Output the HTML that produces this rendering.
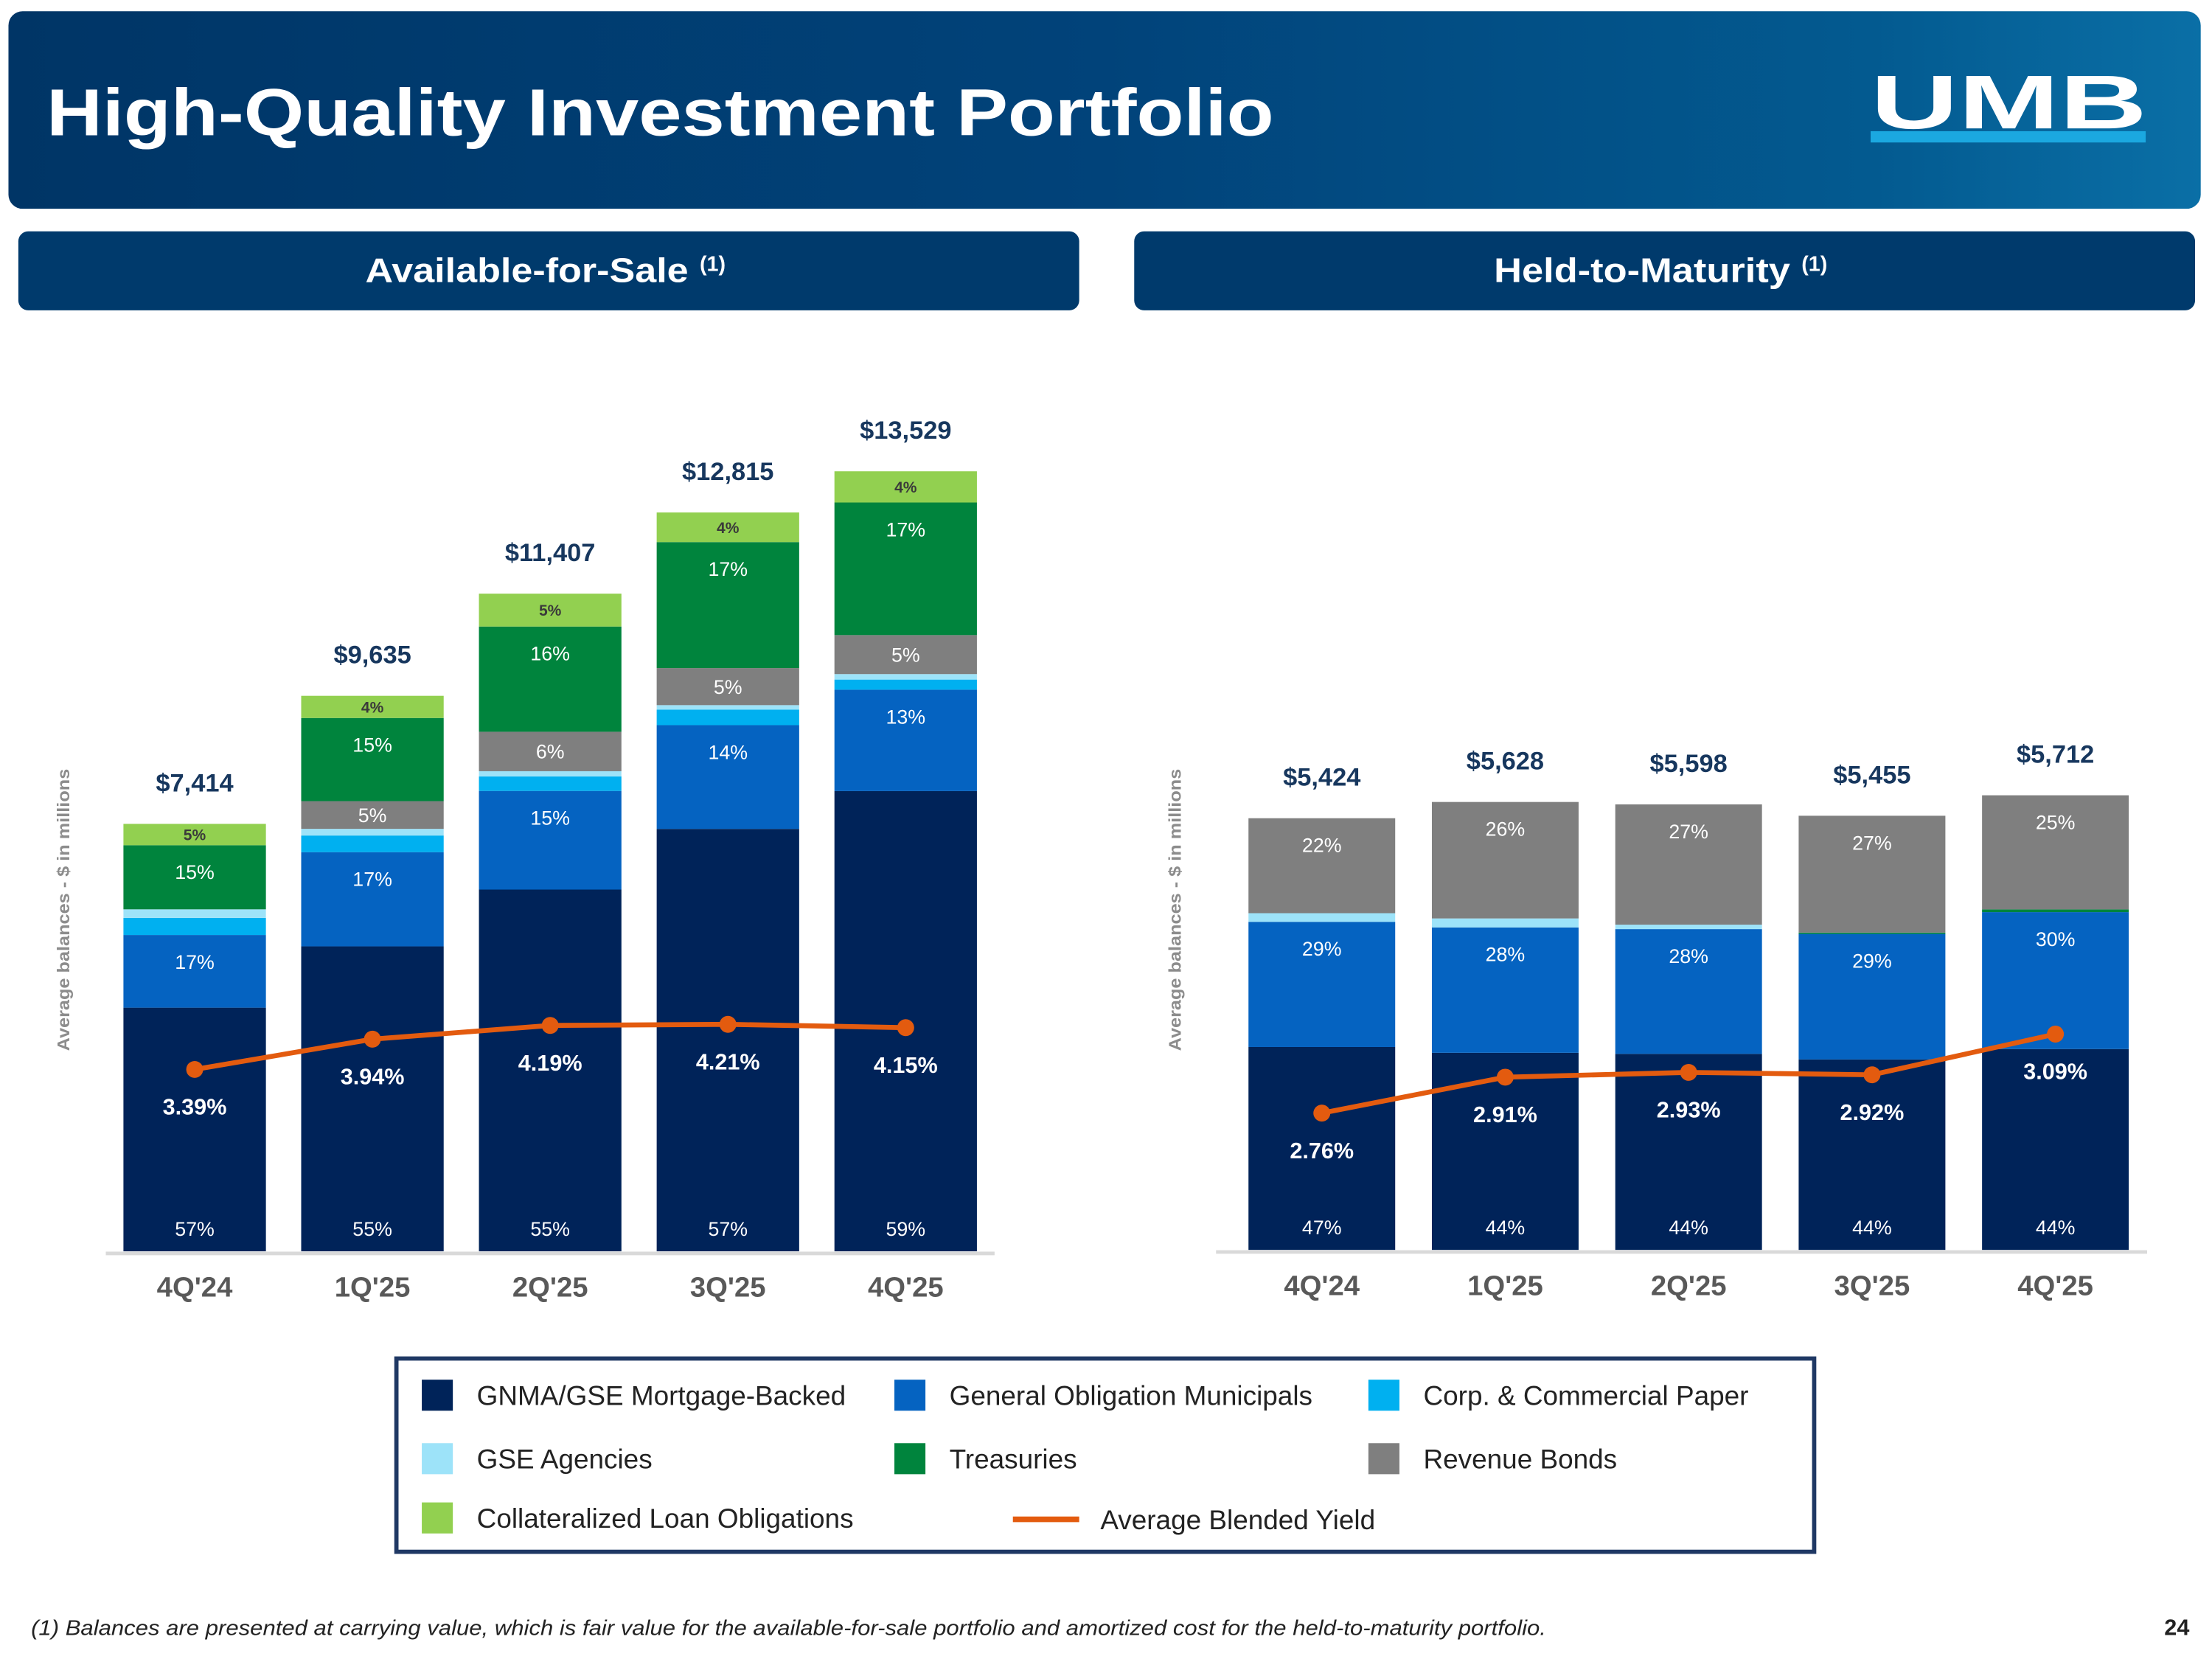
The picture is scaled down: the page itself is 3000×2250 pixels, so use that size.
<!DOCTYPE html>
<html><head><meta charset="utf-8">
<style>
html,body{margin:0;padding:0;background:#fff;}
svg{display:block;font-family:"Liberation Sans",Arial,sans-serif;}
</style></head>
<body>
<svg id="root" width="3000" height="2250" viewBox="0 0 1568 1176" xmlns="http://www.w3.org/2000/svg">
<defs>
<linearGradient id="hdr" x1="0" x2="1" y1="0" y2="0">
<stop offset="0" stop-color="#003566"/><stop offset="0.5" stop-color="#01437a"/><stop offset="0.85" stop-color="#035a90"/><stop offset="1" stop-color="#0a6fa6"/>
</linearGradient>
</defs>
<g>
<rect x="6" y="8" width="1554" height="140" rx="10" fill="url(#hdr)"/>
<text x="33" y="96" font-size="47" font-weight="bold" fill="#fff" textLength="870" lengthAdjust="spacingAndGlyphs">High-Quality Investment Portfolio</text>
<g>
<text x="1424" y="91" text-anchor="middle" font-size="54" font-weight="900" fill="#fff" textLength="196" lengthAdjust="spacingAndGlyphs">UMB</text>
<rect x="1326" y="93" width="195" height="8" fill="#1ba8e0"/>
</g>
</g>
<g>
<rect x="13" y="164" width="752" height="56" rx="7" fill="#003a6c"/>
<text x="259" y="200" font-size="24" font-weight="bold" fill="#fff"><tspan textLength="229" lengthAdjust="spacingAndGlyphs">Available-for-Sale</tspan><tspan font-size="15" dx="8" dy="-8">(1)</tspan></text>
</g>
<g>
<rect x="804" y="164" width="752" height="56" rx="7" fill="#003a6c"/>
<text x="1059" y="200" font-size="24" font-weight="bold" fill="#fff"><tspan textLength="210" lengthAdjust="spacingAndGlyphs">Held-to-Maturity</tspan><tspan font-size="15" dx="8" dy="-8">(1)</tspan></text>
</g>
<g id="afs"></g>
<g id="htm"></g>
<g id="legend">
<rect x="281" y="963" width="1005" height="137" fill="#fff" stroke="#1f3864" stroke-width="3"/>
</g>
<text x="22" y="1159" font-size="15" font-style="italic" fill="#222" textLength="1074" lengthAdjust="spacingAndGlyphs">(1) Balances are presented at carrying value, which is fair value for the available-for-sale portfolio and amortized cost for the held-to-maturity portfolio.</text>
<text x="1552" y="1159" text-anchor="end" font-size="16" font-weight="bold" fill="#222">24</text>
</svg>
<script>
const categories = ["4Q'24","1Q'25","2Q'25","3Q'25","4Q'25"];
const seriesNames = ["GNMA/GSE Mortgage-Backed","General Obligation Municipals","Corp. & Commercial Paper","GSE Agencies","Revenue Bonds","Treasuries","Collateralized Loan Obligations"];
const seriesColors = ["#002359","#0563c1","#00b0f0","#9de3f9","#7f7f7f","#00843d","#92d050"];
// AFS
const afsTotals = [7414, 9635, 11407, 12815, 13529];
const afsGNMA = [57, 55, 55, 57, 59];
const afsGO = [17, 17, 15, 14, 13];
const afsCorp = [4, 3, 2.2, 2.1, 1.3];
const afsGSE = [2, 1.2, 0.8, 0.6, 0.7];
const afsRevenue = [0, 5, 6, 5, 5];
const afsTreasuries = [15, 15, 16, 17, 17];
const afsCLO = [5, 4, 5, 4, 4];
const afsYield = [3.39, 3.94, 4.19, 4.21, 4.15];
// HTM
const htmTotals = [5424, 5628, 5598, 5455, 5712];
const htmGNMA = [47, 44, 44, 44, 44];
const htmGO = [29, 28, 28, 29, 30];
const htmCorp = [0, 0, 0, 0, 0];
const htmGSE = [2, 2, 1, 0, 0];
const htmRevenue = [22, 26, 27, 27, 25];
const htmTreasuries = [0, 0, 0, 0.3, 0.6];
const htmCLO = [0, 0, 0, 0, 0];
const htmYield = [2.76, 2.91, 2.93, 2.92, 3.09];
const labelShow = [true,true,false,false,true,true,true];
const NS="http://www.w3.org/2000/svg";
function mk(tag, attrs, parent){const e=document.createElementNS(NS,tag);for(const k in attrs)e.setAttribute(k,attrs[k]);parent.appendChild(e);return e;}
function fmt(v){return "$"+v.toLocaleString("en-US");}
function drawChart(g, cfg){
  const xCenter=i=>cfg.x0+i*cfg.step;
  const yBal=v=>cfg.base-v*cfg.pxPerUnit;
  const yYield=v=>cfg.ya-v*cfg.yb;
  const axis=mk('line',{x1:cfg.axL,x2:cfg.axR,y1:cfg.base+1.5,y2:cfg.base+1.5,stroke:'#d9d9d9','stroke-width':2.5},g);
  
  
  const yt=mk('text',{x:0,y:0,transform:`translate(${cfg.ytX},645) rotate(-90)`,'text-anchor':'middle','font-size':12,'font-weight':'bold',fill:'#8c8c8c',textLength:200,lengthAdjust:'spacingAndGlyphs'},g);
  yt.textContent="Average balances  - $ in millions";
  
  
  cfg.totals.forEach((tot,i)=>{
    const cx=xCenter(i), totalH=tot*cfg.pxPerUnit;
    const pctSum=cfg.series.reduce((a,s)=>a+s[i],0);
    let y=cfg.base;
    cfg.order.forEach(k=>{
      const v=cfg.series[k][i]; if(v<=0) return;
      const h=v/pctSum*totalH;
      const r=mk('rect',{x:cx-cfg.bw/2,y:y-h,width:cfg.bw,height:h,fill:seriesColors[k]},g);
      
      
      if(labelShow[k] && v>=3){
        let ly;
        if(k===0) ly=cfg.base-11;
        else if(k===6) ly=y-h/2+4;
        else ly=Math.min(y-h+24, y-h/2+5);
        const t=mk('text',{x:cx,y:ly,'text-anchor':'middle','font-size':k===6?11:14,'font-weight':k===6?'bold':'normal',fill:k===6?'#3a3a3a':'#fff'},g);
        t.textContent=Math.round(v)+"%";
        
        
      }
      y-=h;
    });
    const tl=mk('text',{x:cx,y:yBal(tot)-23,'text-anchor':'middle','font-size':18,'font-weight':'bold',fill:'#17375e'},g);
    tl.textContent=fmt(tot);
    
    
    const cl=mk('text',{x:cx,y:cfg.base+32,'text-anchor':'middle','font-size':20,'font-weight':'bold',fill:'#595959'},g);
    cl.textContent=categories[i];
    
    
  });
  const pts=cfg.yields.map((v,i)=>xCenter(i)+","+yYield(v)).join(" ");
  const pl=mk('polyline',{points:pts,fill:'none',stroke:'#e35b0f','stroke-width':3.5},g);
  
  
  cfg.yields.forEach((v,i)=>{
    const c=mk('circle',{cx:xCenter(i),cy:yYield(v),r:6,fill:'#e35b0f'},g);
    
    
    const t=mk('text',{x:xCenter(i),y:yYield(v)+32,'text-anchor':'middle','font-size':16,'font-weight':'bold',fill:'#fff'},g);
    t.textContent=v.toFixed(2)+"%";
    
    
  });
}
drawChart(document.getElementById('afs'),{x0:138,step:126,bw:101,base:887,pxPerUnit:303/7414,ya:890.3,yb:39,axL:75,axR:705,ytX:49,
  totals:afsTotals,series:[afsGNMA,afsGO,afsCorp,afsGSE,afsRevenue,afsTreasuries,afsCLO],order:[0,1,2,3,4,5,6],yields:afsYield});
drawChart(document.getElementById('htm'),{x0:937,step:130,bw:104,base:886,pxPerUnit:306/5424,ya:1257.4,yb:169.7,axL:862,axR:1522,ytX:837,
  totals:htmTotals,series:[htmGNMA,htmGO,htmCorp,htmGSE,htmRevenue,htmTreasuries,htmCLO],order:[0,1,2,3,5,4,6],yields:htmYield});
// legend
const lg=document.getElementById('legend');
const legPos=[[299,989],[634,989],[970,989],[299,1034],[970,1034],[634,1034],[299,1076]];
seriesNames.forEach((n,k)=>{
  const [x,y]=legPos[k];
  const s=mk('rect',{x:x,y:y-11,width:22,height:22,fill:seriesColors[k]},lg);
  
  
  const t=mk('text',{x:x+39,y:y+7,'font-size':19.3,fill:'#222'},lg);
  t.textContent=n;
  
  
});
const ll=mk('line',{x1:718,x2:765,y1:1077,y2:1077,stroke:'#e35b0f','stroke-width':4},lg);


const lt=mk('text',{x:780,y:1084,'font-size':19.3,fill:'#222'},lg);
lt.textContent="Average Blended Yield";


</script>
</body></html>
